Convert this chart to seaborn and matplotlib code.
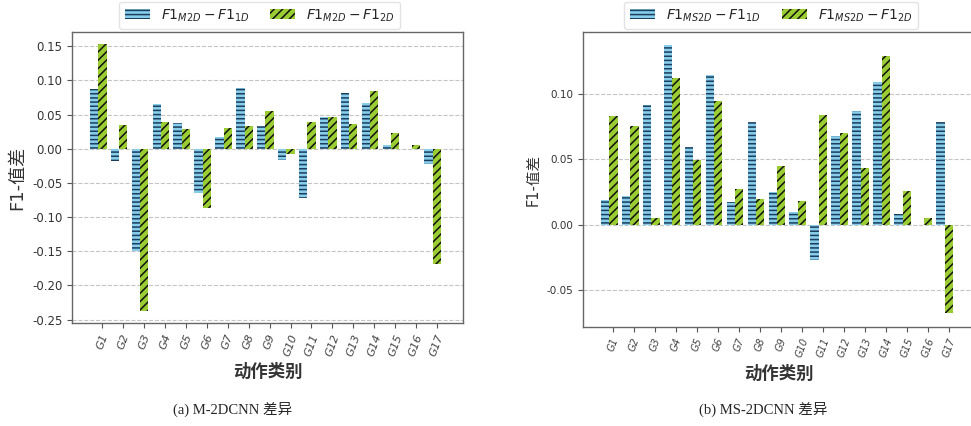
import pandas as pd
import matplotlib
matplotlib.use('Agg')
import matplotlib.pyplot as plt
import seaborn as sns

# action categories
groups = ['G%d' % i for i in range(1, 18)]

# (a) M-2DCNN differences
m2d_vs_1d = [0.088, -0.018, -0.150, 0.065, 0.038, -0.065, 0.018, 0.089, 0.033,
             -0.016, -0.072, 0.046, 0.082, 0.067, 0.005, 0.000, -0.022]
m2d_vs_2d = [0.153, 0.035, -0.237, 0.039, 0.029, -0.087, 0.031, 0.033, 0.055,
             -0.007, 0.039, 0.047, 0.037, 0.084, 0.023, 0.006, -0.168]

# (b) MS-2DCNN differences
ms2d_vs_1d = [0.019, 0.022, 0.091, 0.137, 0.059, 0.114, 0.017, 0.078, 0.025,
              0.010, -0.027, 0.068, 0.087, 0.109, 0.008, 0.000, 0.078]
ms2d_vs_2d = [0.083, 0.075, 0.005, 0.112, 0.049, 0.094, 0.027, 0.020, 0.045,
              0.018, 0.084, 0.070, 0.043, 0.129, 0.026, 0.005, -0.067]

labels_a = [r'$F1_{M2D}-F1_{1D}$', r'$F1_{M2D}-F1_{2D}$']
labels_b = [r'$F1_{MS2D}-F1_{1D}$', r'$F1_{MS2D}-F1_{2D}$']

BLUE = '#87CEEB'
GREEN = '#9ACD32'

sns.set_style('ticks')
plt.rcParams['font.family'] = ['DejaVu Sans', 'Noto Sans CJK SC']
plt.rcParams['hatch.linewidth'] = 1.1


def make_frame(s1, s2, names):
    return pd.DataFrame({
        'group': groups * 2,
        'value': list(s1) + list(s2),
        'kind': [names[0]] * len(groups) + [names[1]] * len(groups),
    })


def draw_panel(ax, s1, s2, names, ylim, yticks, tick_fs, ylabel_fs):
    df = make_frame(s1, s2, names)
    sns.barplot(data=df, x='group', y='value', hue='kind', order=groups,
                hue_order=names, palette=[BLUE, GREEN], saturation=1,
                width=0.8, legend=False, ax=ax)

    # hatching: horizontal dark lines on blue, black diagonals on green
    for cont, hatch, hcol in zip(ax.containers, ['----', '////'], ['#1d3d5e', '#111111']):
        for p in cont.patches:
            p.set_hatch(hatch)
            p.set_edgecolor(hcol)
            p.set_linewidth(0)

    n = len(groups)
    ax.set_xticks([i + 0.2 for i in range(n)])
    ax.set_xticklabels(groups, rotation=70, fontsize=tick_fs - 0.5,
                       color='#444444', fontstyle='italic')
    ax.set_xlim(-1.25, n + 0.45)
    ax.set_ylim(*ylim)
    ax.set_yticks(yticks)
    ax.set_yticklabels(['%.2f' % t for t in yticks], fontsize=tick_fs, color='#333333')
    ax.yaxis.grid(True, linestyle='--', color='#c4c4c4', linewidth=0.8)
    ax.set_axisbelow(True)
    for sp in ax.spines.values():
        sp.set_color('#666666')
        sp.set_linewidth(1.0)
    ax.tick_params(length=3.5, color='#555555')

    ax.set_xlabel('动作类别', fontsize=12.5, color='#333333', labelpad=4,
                  fontweight='bold')
    ax.set_ylabel('F1-值差', fontsize=ylabel_fs, color='#333333')

    ax.legend(handles=ax.containers, labels=names, loc='lower center',
              bbox_to_anchor=(0.48, 1.005), ncol=2, fontsize=10,
              frameon=True, edgecolor='#dddddd', borderaxespad=0.1,
              columnspacing=1.5, handlelength=1.8)


fig = plt.figure(figsize=(9.71, 4.26), dpi=100)
ax1 = fig.add_axes([0.0742, 0.2418, 0.4027, 0.6831])
ax2 = fig.add_axes([0.6004, 0.2324, 0.4037, 0.6925])

draw_panel(ax1, m2d_vs_1d, m2d_vs_2d, labels_a, (-0.255, 0.171),
           [-0.25, -0.20, -0.15, -0.10, -0.05, 0.0, 0.05, 0.10, 0.15], 8.5, 13)
draw_panel(ax2, ms2d_vs_1d, ms2d_vs_2d, labels_b, (-0.078, 0.147),
           [-0.05, 0.0, 0.05, 0.10], 7.5, 10.5)

cap_font = ['Liberation Serif', 'Noto Sans CJK SC']
fig.text(233 / 971, 0.038, '(a) M-2DCNN 差异', ha='center', va='center',
         fontsize=10.5, family=cap_font)
fig.text(763 / 971, 0.038, '(b) MS-2DCNN 差异', ha='center', va='center',
         fontsize=10.5, family=cap_font)

fig.savefig('out.png', dpi=100)
